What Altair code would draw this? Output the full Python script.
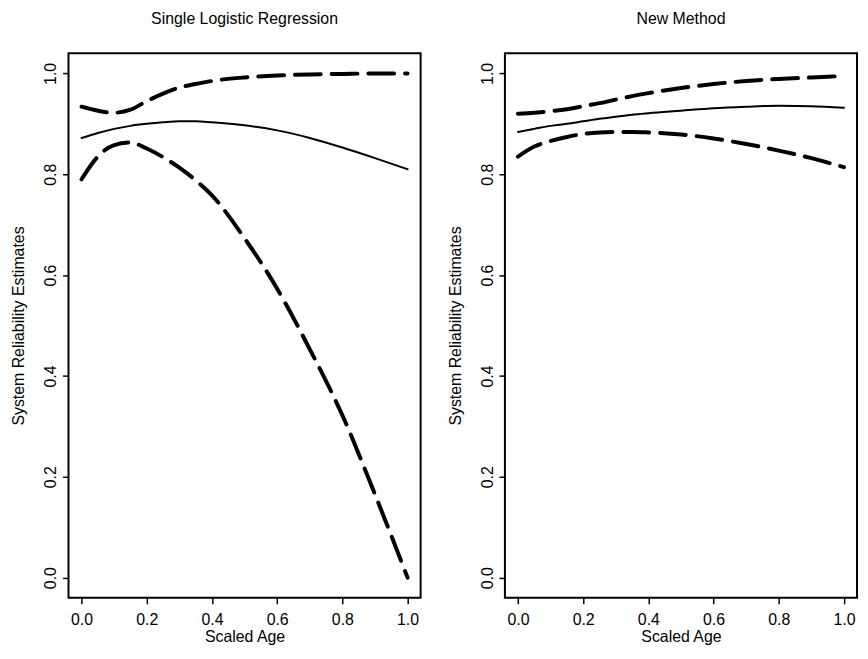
import altair as alt
import pandas as pd

# ---- data ----
x_grid = [0.0, 0.05, 0.1, 0.15, 0.2, 0.25, 0.3, 0.35, 0.4, 0.5, 0.6, 0.7, 0.8, 0.9, 1.0]

# Single Logistic Regression
slr_fit   = [0.872, 0.882, 0.890, 0.896, 0.900, 0.903, 0.905, 0.905, 0.903, 0.897, 0.887, 0.872, 0.853, 0.832, 0.810]
slr_upper = [0.934, 0.926, 0.922, 0.928, 0.945, 0.960, 0.972, 0.979, 0.985, 0.992, 0.996, 0.998, 0.999, 1.000, 1.000]
slr_lower = [0.790, 0.835, 0.858, 0.863, 0.851, 0.834, 0.813, 0.788, 0.758, 0.673, 0.573, 0.453, 0.322, 0.165, 0.000]

# New Method
new_fit   = [0.884, 0.890, 0.896, 0.900, 0.905, 0.910, 0.914, 0.918, 0.921, 0.926, 0.931, 0.934, 0.936, 0.935, 0.932]
new_upper = [0.920, 0.922, 0.925, 0.929, 0.935, 0.941, 0.948, 0.955, 0.961, 0.971, 0.979, 0.985, 0.989, 0.992, 0.995]
new_lower = [0.835, 0.855, 0.866, 0.874, 0.880, 0.883, 0.884, 0.884, 0.883, 0.879, 0.871, 0.860, 0.847, 0.832, 0.814]

panel_titles = ["Single Logistic Regression", "New Method"]
x_title = "Scaled Age"
y_title = "System Reliability Estimates"
tick_vals = [0.0, 0.2, 0.4, 0.6, 0.8, 1.0]

FONT = "Liberation Sans"
DASH = [26, 11]


def panel(title, fit, upper, lower):
    df = pd.DataFrame({"x": x_grid, "fit": fit, "upper": upper, "lower": lower})
    xs = alt.Scale(domain=[-0.04, 1.04], nice=False, zero=False)
    ys = alt.Scale(domain=[-0.04, 1.04], nice=False, zero=False)
    xax = alt.Axis(values=tick_vals, format=".1f", title=x_title,
                   labelPadding=8, titlePadding=1)
    yax = alt.Axis(values=tick_vals, format=".1f", title=y_title,
                   labelAngle=270, labelAlign="center", labelBaseline="bottom",
                   labelPadding=4, titlePadding=16)
    base = alt.Chart(df)
    solid = base.mark_line(color="black", strokeWidth=2, strokeCap="round",
                           interpolate="monotone").encode(
        x=alt.X("x:Q", scale=xs, axis=xax),
        y=alt.Y("fit:Q", scale=ys, axis=yax),
    )
    up = base.mark_line(color="black", strokeWidth=4, strokeDash=DASH, strokeCap="round",
                        interpolate="monotone").encode(
        x=alt.X("x:Q", scale=xs), y=alt.Y("upper:Q", scale=ys))
    lo = base.mark_line(color="black", strokeWidth=4, strokeDash=DASH, strokeCap="round",
                        interpolate="monotone").encode(
        x=alt.X("x:Q", scale=xs), y=alt.Y("lower:Q", scale=ys))
    return alt.layer(solid, up, lo).properties(
        width=355, height=549,
        title=alt.TitleParams(title, fontSize=16, fontWeight="normal", font=FONT,
                              color="black", offset=27),
    )


left = panel(panel_titles[0], slr_fit, slr_upper, slr_lower)
right = panel(panel_titles[1], new_fit, new_upper, new_lower)

chart = alt.hconcat(left, right, spacing=85, bounds="flush").properties(
    padding={"left": 2, "top": -1, "right": 2, "bottom": 0},
    background="white",
).configure_view(
    stroke="black", strokeWidth=2
).configure_axis(
    domain=False, grid=False, tickColor="black", tickWidth=1.5, tickSize=6,
    labelFont=FONT, labelFontSize=16, labelColor="black",
    titleFont=FONT, titleFontSize=16, titleFontWeight="normal", titleColor="black",
)

chart.save("out.html", embed_options={"renderer": "svg", "actions": False})
